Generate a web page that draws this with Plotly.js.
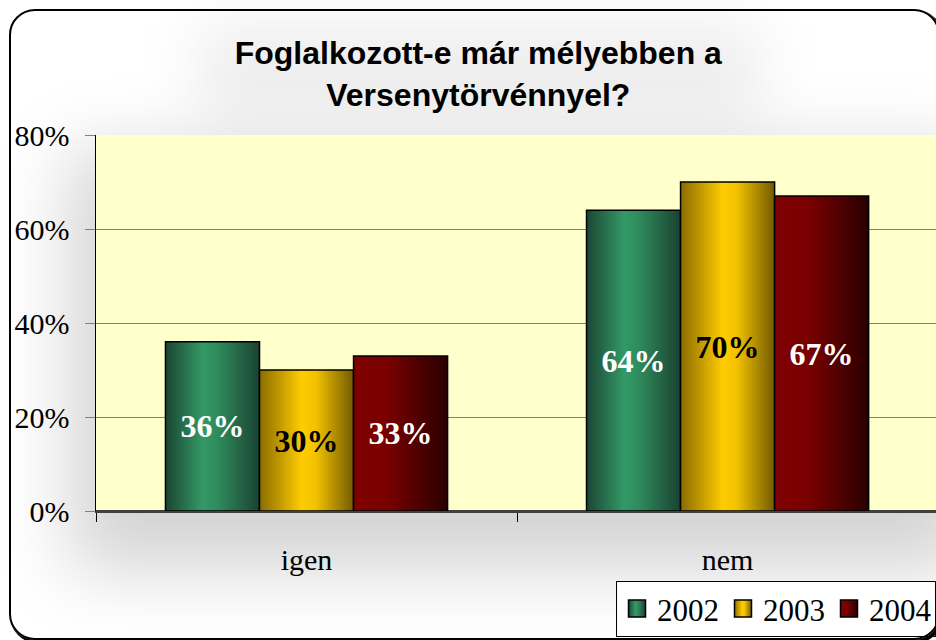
<!DOCTYPE html>
<html>
<head>
<meta charset="utf-8">
<script src="https://cdn.plot.ly/plotly-3.0.1.min.js"></script>
<style>
  html, body { margin: 0; padding: 0; background: #ffffff; }
  #wrap { position: relative; width: 936px; height: 640px; overflow: hidden; background: #ffffff; }
  #glowPlot { position: absolute; left: 70px; top: 150px; width: 900px; height: 420px;
              background: rgba(0,0,0,0.17); filter: blur(35px); }
  #glowTitle { position: absolute; left: 200px; top: 25px; width: 560px; height: 95px;
               background: rgba(0,0,0,0.07); filter: blur(30px); }
  #frame { position: absolute; left: 9px; top: 9px; width: 927px; height: 627px;
           border: 2.5px solid #000; border-radius: 26px; box-shadow: 2px 2px 0 1px #000; pointer-events: none; }
  #chart { position: absolute; left: 0; top: 0; width: 936px; height: 640px; }
</style>
</head>
<body>
<div id="wrap">
  <div id="glowTitle"></div>
  <div id="glowPlot"></div>
  <div id="chart"></div>
  <div id="frame"></div>
</div>
<script>
// ---- data ----
const categories = ['igen', 'nem'];
const years = ['2002', '2003', '2004'];
const values2002 = [36, 64];
const values2003 = [30, 70];
const values2004 = [33, 67];
const yTickVals = [0, 20, 40, 60, 80];
const yTickText = ['0%', '20%', '40%', '60%', '80%'];

const seriesValues = [values2002, values2003, values2004];
const baseColors = ['#2e8b5e', '#ffcc00', '#800000'];
const labelColors = ['#ffffff', '#000000', '#ffffff'];
const gradients = [
  [[0, '#1b4633'], [0.4, '#339966'], [0.55, '#2f8c5d'], [1, '#1a4231']],
  [[0, '#8a6c00'], [0.45, '#ffcc00'], [0.6, '#f2c200'], [1, '#735a00']],
  [[0, '#800000'], [0.35, '#7a0000'], [1, '#2a0000']]
];

const traces = years.map((yr, i) => ({
  type: 'bar',
  name: yr,
  x: categories,
  y: seriesValues[i],
  text: seriesValues[i].map(v => v + '%'),
  textposition: 'inside',
  insidetextanchor: 'middle',
  textangle: 0,
  constraintext: 'none',
  textfont: { family: 'Liberation Serif, Times New Roman, serif', size: 32, color: labelColors[i], weight: 'bold' },
  marker: { color: baseColors[i], line: { color: '#000000', width: 1.5 } },
  hoverinfo: 'none'
}));

const layout = {
  width: 936, height: 640,
  margin: { l: 96, r: 0, t: 135, b: 129, pad: 0 },
  paper_bgcolor: 'rgba(0,0,0,0)',
  plot_bgcolor: '#ffffcc',
  barmode: 'group',
  bargap: 0.33,
  bargroupgap: 0,
  showlegend: true,
  title: {
    text: '<b>Foglalkozott-e már mélyebben a<br>Versenytörvénnyel?</b>',
    font: { family: 'Liberation Sans, Arial, sans-serif', size: 32, color: '#000000' },
    x: 0.511, xanchor: 'center', xref: 'container',
    y: 0.90, yanchor: 'top', yref: 'container'
  },
  xaxis: {
    type: 'category',
    range: [-0.5, 1.495],
    tickson: 'boundaries',
    ticks: 'outside', ticklen: 9, tickwidth: 1, tickcolor: '#000000',
    showline: true, linecolor: '#404040', linewidth: 2,
    showgrid: false, zeroline: false,
    tickfont: { family: 'Liberation Serif, Times New Roman, serif', size: 30, color: '#000000' },
    ticklabelstandoff: 21,
    fixedrange: true
  },
  yaxis: {
    range: [0, 80],
    tickvals: yTickVals, ticktext: yTickText,
    ticks: 'outside', ticklen: 10, tickwidth: 1, tickcolor: '#808080',
    showline: true, linecolor: '#000000', linewidth: 1.5,
    showgrid: true, gridcolor: '#808080', gridwidth: 1,
    zeroline: true, zerolinecolor: '#404040', zerolinewidth: 2,
    tickfont: { family: 'Liberation Serif, Times New Roman, serif', size: 30, color: '#000000' },
    ticklabelstandoff: 9,
    fixedrange: true
  },
  legend: {
    orientation: 'h',
    x: 1.0, xanchor: 'right', xref: 'paper',
    y: -0.186, yanchor: 'top', yref: 'paper',
    bgcolor: '#ffffff', bordercolor: '#000000', borderwidth: 1,
    font: { family: 'Liberation Serif, Times New Roman, serif', size: 31, color: '#000000' },
    itemwidth: 30,
    entrywidth: 61, entrywidthmode: 'pixels',
    tracegroupgap: 0
  }
};

const gd = document.getElementById('chart');
Plotly.newPlot(gd, traces, layout, { staticPlot: true, displayModeBar: false }).then(() => {
  const NS = 'http://www.w3.org/2000/svg';
  const svg = gd.querySelector('svg.main-svg');
  let defs = svg.querySelector('defs');
  if (!defs) { defs = document.createElementNS(NS, 'defs'); svg.insertBefore(defs, svg.firstChild); }
  gradients.forEach((stops, i) => {
    const lg = document.createElementNS(NS, 'linearGradient');
    lg.setAttribute('id', 'barGrad' + i);
    lg.setAttribute('x1', '0'); lg.setAttribute('y1', '0');
    lg.setAttribute('x2', '1'); lg.setAttribute('y2', '0');
    stops.forEach(([o, c]) => {
      const s = document.createElementNS(NS, 'stop');
      s.setAttribute('offset', o);
      s.setAttribute('stop-color', c);
      lg.appendChild(s);
    });
    defs.appendChild(lg);
  });
  gd.querySelectorAll('.barlayer .trace').forEach((tr, i) => {
    tr.querySelectorAll('.point path').forEach(p => { p.style.fill = 'url(#barGrad' + i + ')'; });
  });
  gd.querySelectorAll('.legend .traces').forEach((tr, i) => {
    tr.querySelectorAll('.legendpoints path').forEach(p => {
      p.setAttribute('d', 'M8.5,8.5H-8.5V-8.5H8.5Z');
      p.style.fill = 'url(#barGrad' + i + ')';
      p.style.stroke = '#000000';
      p.style.strokeWidth = '1.5px';
    });
  });
});
</script>
</body>
</html>
